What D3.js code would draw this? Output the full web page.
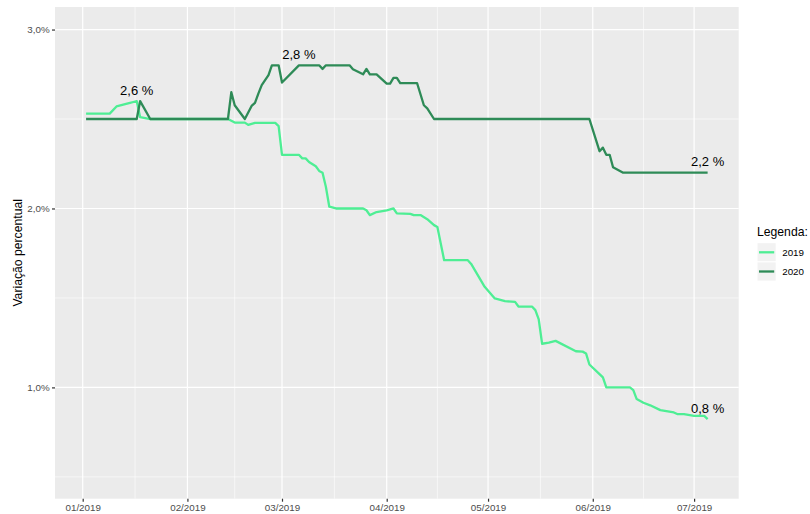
<!DOCTYPE html>
<html>
<head>
<meta charset="utf-8">
<script src="https://cdn.jsdelivr.net/npm/d3@7"></script>
<style>
  body { margin: 0; background: #fff; }
  text { font-family: "Liberation Sans", Arial, sans-serif; }
</style>
</head>
<body>
<div class="chart"></div>
<script>
// Series names and colours
var seriesNames = ["2019", "2020"];
var seriesColors = ["#4EEE94", "#2E8B57"];

// 2019 expectation
var dates2019 = ["2019-01-02","2019-01-09","2019-01-11","2019-01-13","2019-01-15","2019-01-16","2019-01-17","2019-01-18","2019-01-21","2019-02-13","2019-02-15","2019-02-18","2019-02-19","2019-02-21","2019-02-27","2019-02-28","2019-03-01","2019-03-06","2019-03-07","2019-03-08","2019-03-09","2019-03-11","2019-03-12","2019-03-13","2019-03-14","2019-03-15","2019-03-17","2019-03-25","2019-03-26","2019-03-27","2019-03-29","2019-04-01","2019-04-03","2019-04-04","2019-04-08","2019-04-09","2019-04-11","2019-04-13","2019-04-15","2019-04-16","2019-04-18","2019-04-25","2019-04-26","2019-04-30","2019-05-03","2019-05-06","2019-05-09","2019-05-10","2019-05-14","2019-05-15","2019-05-16","2019-05-17","2019-05-19","2019-05-21","2019-05-27","2019-05-29","2019-05-30","2019-05-31","2019-06-03","2019-06-04","2019-06-05","2019-06-12","2019-06-13","2019-06-14","2019-06-16","2019-06-18","2019-06-21","2019-06-25","2019-06-26","2019-06-28","2019-07-01","2019-07-04","2019-07-05"];
var values2019 = [2.53,2.53,2.57,2.58,2.59,2.595,2.60,2.51,2.50,2.50,2.48,2.48,2.467,2.478,2.478,2.46,2.30,2.30,2.28,2.28,2.26,2.236,2.21,2.20,2.12,2.01,2.00,2.00,1.99,1.963,1.98,1.99,2.00,1.973,1.97,1.963,1.963,1.94,1.907,1.897,1.711,1.711,1.69,1.562,1.497,1.482,1.478,1.452,1.452,1.432,1.38,1.244,1.25,1.26,1.202,1.20,1.19,1.128,1.074,1.056,1.00,1.00,0.985,0.935,0.914,0.90,0.873,0.86,0.851,0.851,0.841,0.841,0.823];

// 2020 expectation
var dates2020 = ["2019-01-02","2019-01-17","2019-01-18","2019-01-21","2019-02-13","2019-02-14","2019-02-15","2019-02-18","2019-02-20","2019-02-21","2019-02-22","2019-02-23","2019-02-25","2019-02-26","2019-02-28","2019-03-01","2019-03-06","2019-03-12","2019-03-13","2019-03-14","2019-03-21","2019-03-22","2019-03-25","2019-03-26","2019-03-27","2019-03-29","2019-04-01","2019-04-02","2019-04-03","2019-04-04","2019-04-05","2019-04-10","2019-04-12","2019-04-13","2019-04-15","2019-05-31","2019-06-03","2019-06-04","2019-06-05","2019-06-06","2019-06-07","2019-06-10","2019-07-05"];
var values2020 = [2.50,2.50,2.60,2.50,2.50,2.65,2.577,2.50,2.573,2.59,2.642,2.689,2.745,2.80,2.80,2.704,2.80,2.80,2.78,2.80,2.80,2.778,2.75,2.78,2.75,2.75,2.698,2.698,2.73,2.73,2.70,2.70,2.577,2.56,2.50,2.50,2.32,2.34,2.30,2.30,2.23,2.20,2.20];

// Points that get a text label
var labelSeries = ["2019", "2020", "2020", "2019"];
var labelDates = ["2019-01-17", "2019-03-06", "2019-07-05", "2019-07-05"];

// Axis ticks
var xTicks = ["2019-01-01","2019-02-01","2019-03-01","2019-04-01","2019-05-01","2019-06-01","2019-07-01"];
var yTicks = [1, 2, 3];
var yMinor = [0.5, 1.5, 2.5];
var yDomain = [0.378, 3.126];

var parse = d3.utcParse("%Y-%m-%d");

var series = [
    { name: "2019", values: dates2019.map((d, i) => ({ date: parse(d), v: values2019[i] })) },
    { name: "2020", values: dates2020.map((d, i) => ({ date: parse(d), v: values2020[i] })) }
];

var width = 810, height = 514;
var padL = 55, padT = 7, padR = 738.7, padB = 498.7;

// x domain: data extent with ggplot's 5% expansion
var allDates = series.flatMap(s => s.values.map(p => +p.date));
var xmin = d3.min(allDates), xmax = d3.max(allDates);
var xpad = (xmax - xmin) * 0.05;

var xScale = d3.scaleUtc()
    .domain([new Date(xmin - xpad), new Date(xmax + xpad)])
    .range([padL, padR]);

var yScale = d3.scaleLinear()
    .domain(yDomain)
    .range([padB, padT]);

var color = d3.scaleOrdinal().domain(seriesNames).range(seriesColors);

var svg = d3.select(".chart")
    .append("svg")
    .attr("width", width)
    .attr("height", height);

// Panel background
svg.append("rect")
    .attr("x", padL).attr("y", padT)
    .attr("width", padR - padL).attr("height", padB - padT)
    .attr("fill", "#EBEBEB");

var xTickDates = xTicks.map(parse);
var xMinor = d3.pairs(xTickDates).map(p => new Date((+p[0] + +p[1]) / 2));

// Minor grid
svg.append("g").selectAll("line")
    .data(yMinor).enter().append("line")
    .attr("x1", padL).attr("x2", padR)
    .attr("y1", d => yScale(d)).attr("y2", d => yScale(d))
    .attr("stroke", "#fff").attr("stroke-width", 0.6);

svg.append("g").selectAll("line")
    .data(xMinor).enter().append("line")
    .attr("y1", padT).attr("y2", padB)
    .attr("x1", d => xScale(d)).attr("x2", d => xScale(d))
    .attr("stroke", "#fff").attr("stroke-width", 0.6);

// Major grid
svg.append("g").selectAll("line")
    .data(yTicks).enter().append("line")
    .attr("x1", padL).attr("x2", padR)
    .attr("y1", d => yScale(d)).attr("y2", d => yScale(d))
    .attr("stroke", "#fff").attr("stroke-width", 1.2);

svg.append("g").selectAll("line")
    .data(xTickDates).enter().append("line")
    .attr("y1", padT).attr("y2", padB)
    .attr("x1", d => xScale(d)).attr("x2", d => xScale(d))
    .attr("stroke", "#fff").attr("stroke-width", 1.2);

// Axes
var fmtPct = v => d3.format(".1f")(v).replace(".", ",") + "%";

var yAxis = svg.append("g")
    .attr("transform", "translate(" + padL + ",0)")
    .call(d3.axisLeft(yScale).tickValues(yTicks).tickSize(3).tickPadding(2.4).tickFormat(fmtPct));

var xAxis = svg.append("g")
    .attr("transform", "translate(0," + padB + ")")
    .call(d3.axisBottom(xScale).tickValues(xTickDates).tickSize(3).tickPadding(2.4).tickFormat(d3.utcFormat("%m/%Y")));

[xAxis, yAxis].forEach(a => {
    a.select(".domain").remove();
    a.selectAll(".tick line").attr("stroke", "#333333").attr("stroke-width", 1.2);
    a.selectAll(".tick text")
        .attr("fill", "#4D4D4D")
        .style("font-size", "9.8px")
        .style("font-family", "Liberation Sans, Arial, sans-serif");
});

// Y axis title
svg.append("text")
    .text("Variação percentual")
    .attr("transform", "translate(21.5," + ((padT + padB) / 2) + ") rotate(-90)")
    .attr("text-anchor", "middle")
    .attr("fill", "black")
    .style("font-size", "12.2px");

// Lines
var line = d3.line()
    .x(d => xScale(d.date))
    .y(d => yScale(d.v));

svg.append("g").selectAll("path")
    .data(series).enter().append("path")
    .attr("d", d => line(d.values))
    .attr("fill", "none")
    .attr("stroke", d => color(d.name))
    .attr("stroke-width", 2.3)
    .attr("stroke-linejoin", "round");

// Labels over selected points
var labels = labelSeries.map((s, i) => {
    var pt = series.find(d => d.name == s).values.find(p => +p.date == +parse(labelDates[i]));
    return pt;
});

svg.append("g").selectAll("text")
    .data(labels).enter().append("text")
    .attr("x", d => xScale(d.date))
    .attr("y", d => yScale(d.v) - 6.5)
    .attr("text-anchor", "middle")
    .attr("fill", "black")
    .style("font-size", "13px")
    .text(d => d3.format(".1f")(d.v).replace(".", ",") + " %");

// Legend
var legend = svg.append("g").attr("transform", "translate(757,0)");

legend.append("text")
    .text("Legenda:")
    .attr("x", 0).attr("y", 235.5)
    .attr("fill", "black")
    .style("font-size", "12.2px");

var keySize = 19.2;
var key = legend.selectAll(".key")
    .data(seriesNames).enter().append("g")
    .attr("transform", (d, i) => "translate(0," + (242.7 + i * keySize) + ")");

key.append("rect")
    .attr("width", keySize).attr("height", keySize)
    .attr("fill", "#F2F2F2").attr("stroke", "#fff").attr("stroke-width", 1);

key.append("line")
    .attr("x1", 2).attr("x2", keySize - 2)
    .attr("y1", keySize / 2).attr("y2", keySize / 2)
    .attr("stroke", d => color(d)).attr("stroke-width", 2.3);

key.append("text")
    .text(d => d)
    .attr("x", keySize + 6).attr("y", keySize / 2 + 3.5)
    .attr("fill", "black")
    .style("font-size", "9.8px");
</script>
</body>
</html>
